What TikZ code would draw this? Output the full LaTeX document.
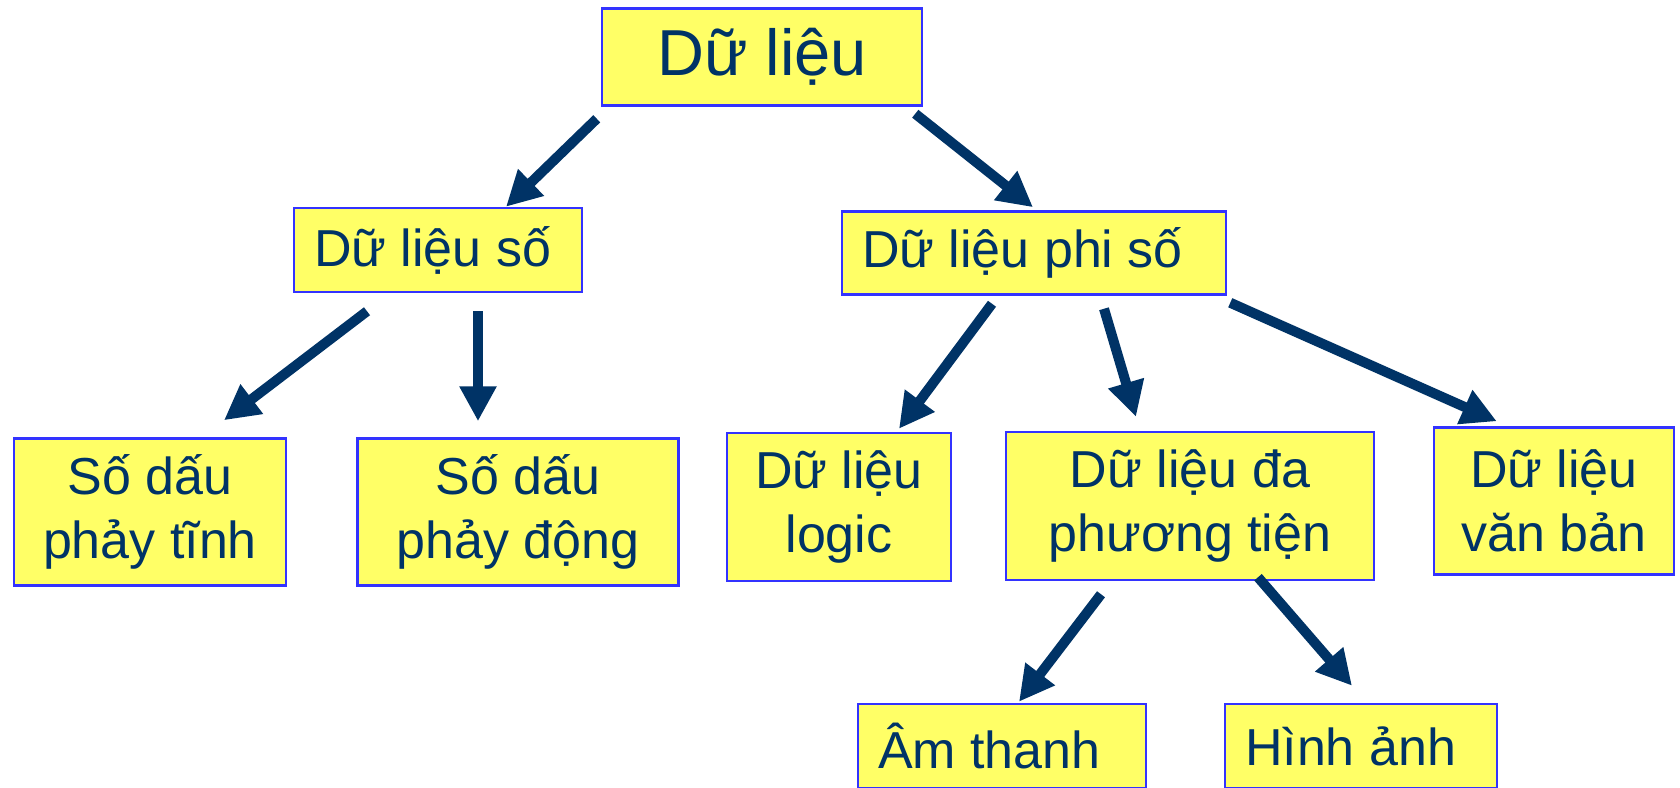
\documentclass[tikz,border=0pt]{standalone}
\usepackage{fontspec}
\setmainfont{Liberation Sans}
\usepackage{xcolor}
\usepackage{tikz}
\usetikzlibrary{arrows.meta, calc}
\definecolor{boxfill}{HTML}{FFFF66}
\definecolor{boxline}{HTML}{3333FF}
\definecolor{navy}{HTML}{003366}

\begin{document}
\begin{tikzpicture}[
		x=1pt, y=-1pt,
		every node/.style={
				rectangle, draw=boxline, line width=2.5pt,
				fill=boxfill, text=navy,
				align=center, inner sep=0pt,
				font=\fontsize{52}{64}\selectfont
			},
		big/.style={font=\fontsize{65}{78}\selectfont}, % solo per la radice
		lbox/.style={align=flush left, inner xsep=20pt, text width=#1}, % testo a sinistra
		link/.style={
				draw=navy, line width=10pt,
				-{Triangle[width=35pt,length=35pt]}
			}
	]
	\useasboundingbox (0,0) rectangle (1680,787);
	\clip (0,0) rectangle (1680,787);

	\node (top) [big, minimum width=320pt, minimum height=97pt] at (762,57) {Dữ liệu};

	\node (num) [lbox=248pt, minimum height=84pt] at (438,250) {Dữ liệu số};
	\node (nonnum) [lbox=344pt, minimum height=83pt] at (1034,253) {Dữ liệu phi số};

	\node (fixed) [minimum width=272pt, minimum height=147pt] at (150,512) {Số dấu\\phảy tĩnh};
	\node (float) [minimum width=321pt, minimum height=147pt] at (518,512) {Số dấu\\phảy động};
	\node (logic) [minimum width=224pt, minimum height=148pt] at (839,507) {Dữ liệu\\logic};
	\node (multi) [minimum width=368pt, minimum height=148pt] at (1190,506) {Dữ liệu đa\\phương tiện};
	\node (text) [minimum width=240pt, minimum height=147pt] at (1554,501) {Dữ liệu\\văn bản};

	\node (sound) [lbox=248pt, minimum height=84pt] at (1002,746) {Âm thanh};
	\node (image) [lbox=232pt, minimum height=84pt] at (1361,746) {Hình ảnh};

	\draw[link] ($(top.south west)+(-4,12)$) -- ($(num.north)+(68,0)$);
	\draw[link] ($(top.south east)+(-8,7)$) -- ($(nonnum.north)+(-1,-3)$);

	\draw[link] ($(num.south)+(-71,18)$) -- ($(fixed.north)+(74,-17)$);
	\draw[link] ($(num.south)+(40,18)$) -- ($(float.north)+(-40,-16)$);

	\draw[link] ($(nonnum.south)+(-42,8)$) -- ($(logic.north)+(60,-3)$);
	\draw[link] ($(nonnum.south)+(70,13)$) -- ($(multi.north)+(-54,-14)$);
	\draw[link] ($(nonnum.south east)+(3,7)$) -- ($(text.north west)+(64,-5)$);

	\draw[link] ($(multi.south)+(-89,13)$) -- ($(sound.north)+(17,-1)$);
	\draw[link] ($(multi.south)+(68,-4)$) -- ($(image.north)+(-9,-17)$);
\end{tikzpicture}
\end{document}
